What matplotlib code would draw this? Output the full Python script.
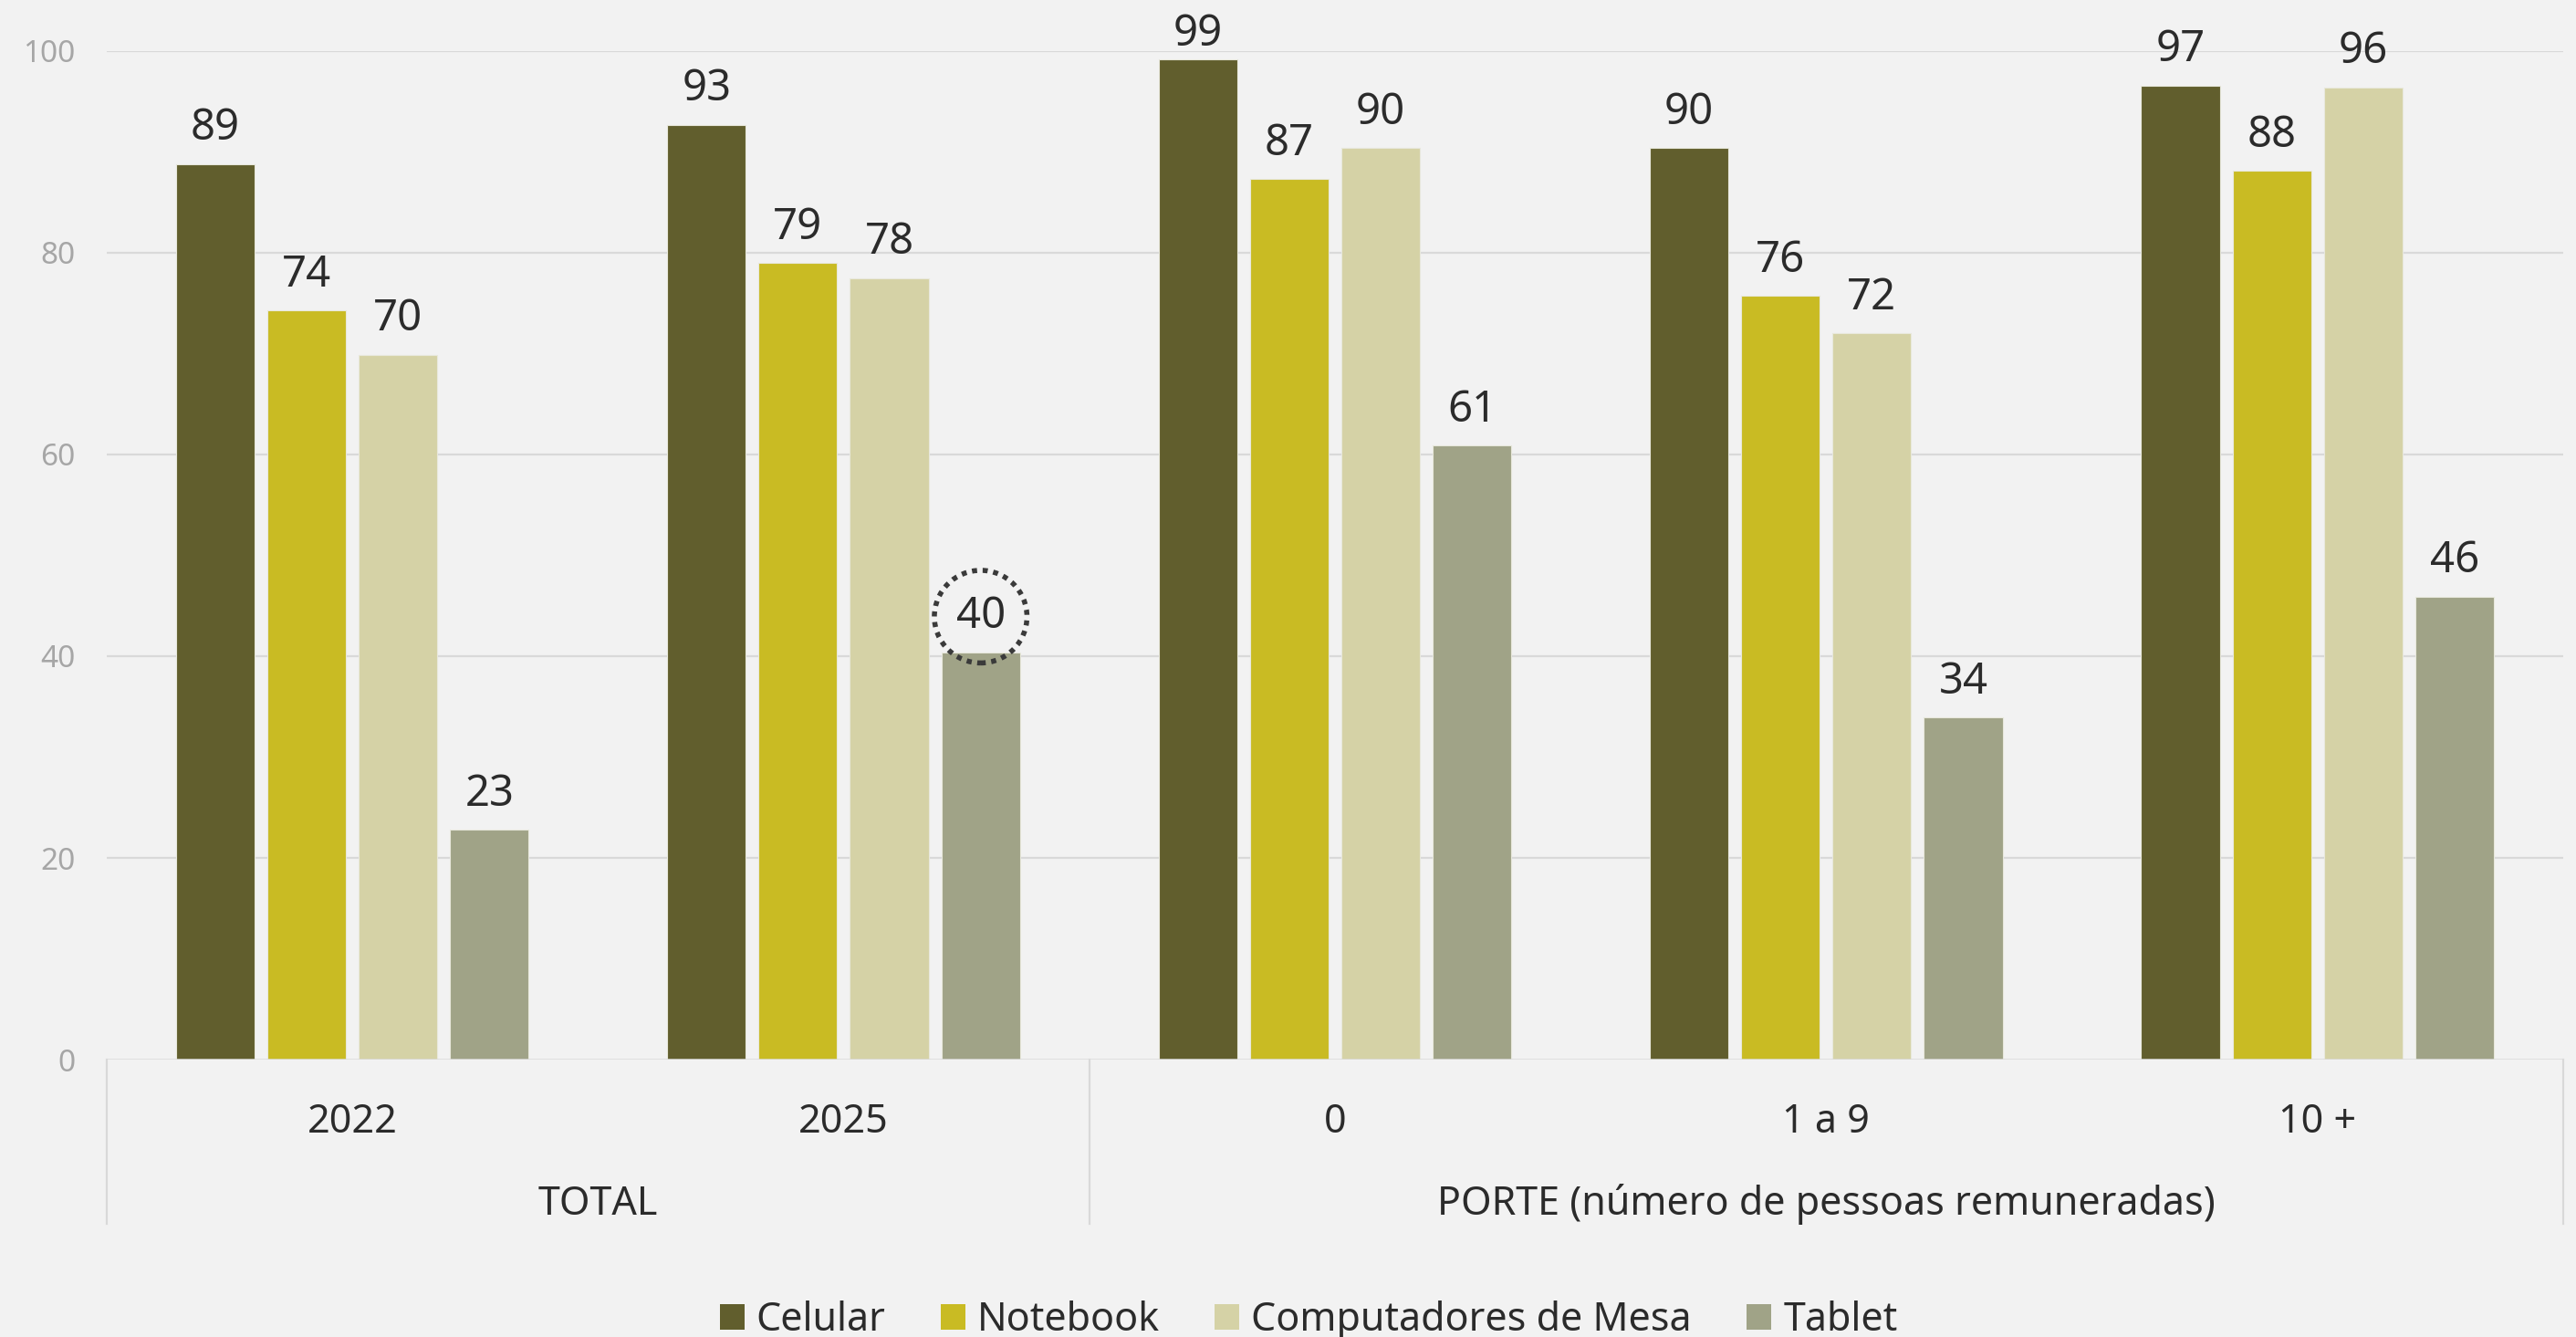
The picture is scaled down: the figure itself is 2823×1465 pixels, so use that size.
import matplotlib
matplotlib.use("Agg")
import matplotlib.pyplot as plt
import matplotlib.transforms as mtransforms
from matplotlib.patches import Patch
import numpy as np

plt.rcParams['font.family'] = ['Noto Sans', 'DejaVu Sans']

categories = ["2022", "2025", "0", "1 a 9", "10 +"]
groups = ["TOTAL", "PORTE (número de pessoas remuneradas)"]
group_spans = [(0, 1), (2, 4)]
series_names = ["Celular", "Notebook", "Computadores de Mesa", "Tablet"]
celular = [88.8, 92.7, 99.2, 90.4, 96.6]
notebook = [74.3, 79.0, 87.3, 75.7, 88.1]
computadores = [69.9, 77.5, 90.4, 72.0, 96.4]
tablet = [22.8, 40.4, 60.9, 33.9, 45.9]
yticks = [0, 20, 40, 60, 80, 100]
highlight = (1, 3)  # (category index, series index) circled

series = [celular, notebook, computadores, tablet]
colors = ["#615e2d", "#c9bb23", "#d5d2a6", "#a0a387"]
bg = "#f2f2f2"
txt = "#2b2b2b"

fig = plt.figure(figsize=(28.23, 14.65), dpi=100, facecolor=bg)
ax = fig.add_axes([0.0414, 0.2075, 0.9536, 0.7543], facecolor=bg)

x = np.arange(len(categories))
width = 0.16
offsets = [-0.279, -0.093, 0.093, 0.279]

# points per data unit on the y axis (axes height in points / 100)
pts_per_unit = 14.65 * 0.7543 * 72 / 100.0
label_ceiling = 100.54  # labels may not rise above this baseline level

for si, (vals, col) in enumerate(zip(series, colors)):
    ax.bar(x + offsets[si], vals, width=width, color=col, zorder=3,
           edgecolor='#e8e8dc', linewidth=0.8)
    for ci, (xi, v) in enumerate(zip(x + offsets[si], vals)):
        kw = {}
        if (ci, si) == highlight:
            kw['bbox'] = dict(boxstyle='circle,pad=0.5', fc='none', ec='#3a3a3a',
                              lw=4.0, ls=(0, (1, 1.1)))
        off = min(19.0, (label_ceiling - v) * pts_per_unit)
        ax.annotate(f"{round(v):d}", (xi, v), xytext=(0, off), textcoords='offset points',
                    ha='center', va='baseline', fontsize=34, color=txt,
                    annotation_clip=False, zorder=5, **kw)

ax.set_xlim(-0.5, len(categories) - 0.5)
ax.set_ylim(0, 100)
ax.set_yticks(yticks)
ax.set_yticklabels([str(t) for t in yticks], fontsize=24, color='#a6a6a6')
ax.tick_params(axis='y', length=0, pad=25)
ax.set_xticks([])
for s in ax.spines.values():
    s.set_visible(False)
for t in yticks[1:]:
    ax.axhline(t, color='#d9d9d9', lw=1.6, zorder=1)
ax.axhline(0, color='#d9d9d9', lw=1.8, zorder=4)

trans = mtransforms.blended_transform_factory(ax.transData, ax.transAxes)
for ci, c in enumerate(categories):
    ax.text(ci, -0.062, c, transform=trans, ha='center', va='center',
            fontsize=31, color=txt)
for g, (a, b) in zip(groups, group_spans):
    ax.text((a + b) / 2, -0.1435, g, transform=trans, ha='center', va='center',
            fontsize=31, color=txt)
bounds = [group_spans[0][0] - 0.5] + [b + 0.5 for (_, b) in group_spans]
for bx in bounds:
    ax.plot([bx, bx], [0, -0.163], transform=trans, color='#d9d9d9', lw=1.6,
            clip_on=False, zorder=1)

handles = [Patch(facecolor=c, edgecolor='none') for c in colors]
fig.legend(handles, series_names, loc='center', bbox_to_anchor=(0.508, 0.012),
           ncol=4, frameon=False, fontsize=31, handlelength=0.63,
           handleheight=0.63, handletextpad=0.3, columnspacing=1.4,
           labelcolor=txt)

fig.savefig("out.png", dpi=100, facecolor=bg)
